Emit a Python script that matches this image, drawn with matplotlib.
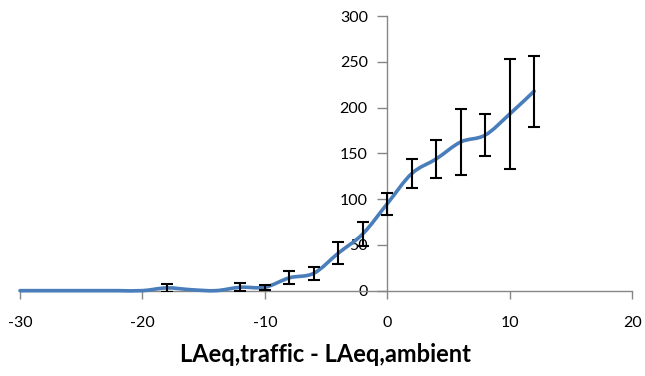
import numpy as np
import matplotlib
matplotlib.use("Agg")
import matplotlib.pyplot as plt
from matplotlib.path import Path
from matplotlib.patches import PathPatch

x_vals = [-30, -28, -26, -24, -22, -20, -18, -16, -14, -12, -10, -8, -6, -4, -2, 0, 2, 4, 6, 8, 10, 12]
y_vals = [0, 0, 0, 0, 0, 0, 3, 1, 0, 3.7, 3.7, 14, 19, 41, 62, 95, 128, 144, 162.5, 170, 193, 218]
err_x = [-18, -12, -10, -8, -6, -4, -2, 0, 2, 4, 6, 8, 10, 12]
err_y = [3, 3.7, 3.7, 14, 19, 41, 62, 95, 128, 144, 162.5, 170, 193, 218]
err_v = [4, 4.5, 3, 7, 7, 12, 13, 12, 16, 21, 36.5, 23, 60, 39]
x_ticks = [-30, -20, -10, 0, 10, 20]
y_ticks = [0, 50, 100, 150, 200, 250, 300]
x_label = "LAeq,traffic - LAeq,ambient"

fig = plt.figure(figsize=(6.45, 3.76), dpi=100)
ax = fig.add_axes([0.031, 0.227, 0.949, 0.730])
ax.set_xlim(-30, 20)
ax.set_ylim(0, 300)

# smoothed (Bezier) line like Excel
px = np.array(x_vals, float)
py = np.array(y_vals, float)
verts = [(px[0], py[0])]
codes = [Path.MOVETO]
t = 1.0 / 6.0
n = len(px)
for i in range(n - 1):
    p0 = (px[max(i - 1, 0)], py[max(i - 1, 0)])
    p1 = (px[i], py[i])
    p2 = (px[i + 1], py[i + 1])
    p3 = (px[min(i + 2, n - 1)], py[min(i + 2, n - 1)])
    c1 = (p1[0] + (p2[0] - p0[0]) * t, p1[1] + (p2[1] - p0[1]) * t)
    c2 = (p2[0] - (p3[0] - p1[0]) * t, p2[1] - (p3[1] - p1[1]) * t)
    verts += [c1, c2, p2]
    codes += [Path.CURVE4] * 3
path = Path(verts, codes)
ax.add_patch(PathPatch(path, facecolor="none", edgecolor="#4a7ebb", lw=2.6,
                       capstyle="round", joinstyle="round", zorder=3, clip_on=False))

ax.errorbar(err_x, err_y, yerr=err_v, fmt="none", ecolor="black", elinewidth=1.5,
            capsize=4, capthick=1.5, zorder=4)

for s in ["top", "right"]:
    ax.spines[s].set_visible(False)
ax.spines["left"].set_position(("data", 0))
ax.spines["bottom"].set_position(("data", 0))
for s in ["left", "bottom"]:
    ax.spines[s].set_color("#868686")
    ax.spines[s].set_linewidth(1.0)

ax.set_xticks(x_ticks)
ax.set_yticks(y_ticks)
ax.set_xticklabels([str(v) for v in x_ticks])
ax.set_yticklabels([str(v) for v in y_ticks])
ax.tick_params(axis="both", direction="out", color="#868686", labelsize=11.5,
               labelcolor="black", width=1.0)
ax.tick_params(axis="x", length=6, pad=12)
ax.tick_params(axis="y", length=7, pad=7)
for lab in ax.get_xticklabels() + ax.get_yticklabels():
    lab.set_fontfamily(["Lato", "DejaVu Sans"])

fig.text(0.505, 0.057, x_label, ha="center", va="center", fontsize=17,
         fontweight="bold", family=["Lato", "DejaVu Sans"])

fig.savefig("out.png", dpi=100)
